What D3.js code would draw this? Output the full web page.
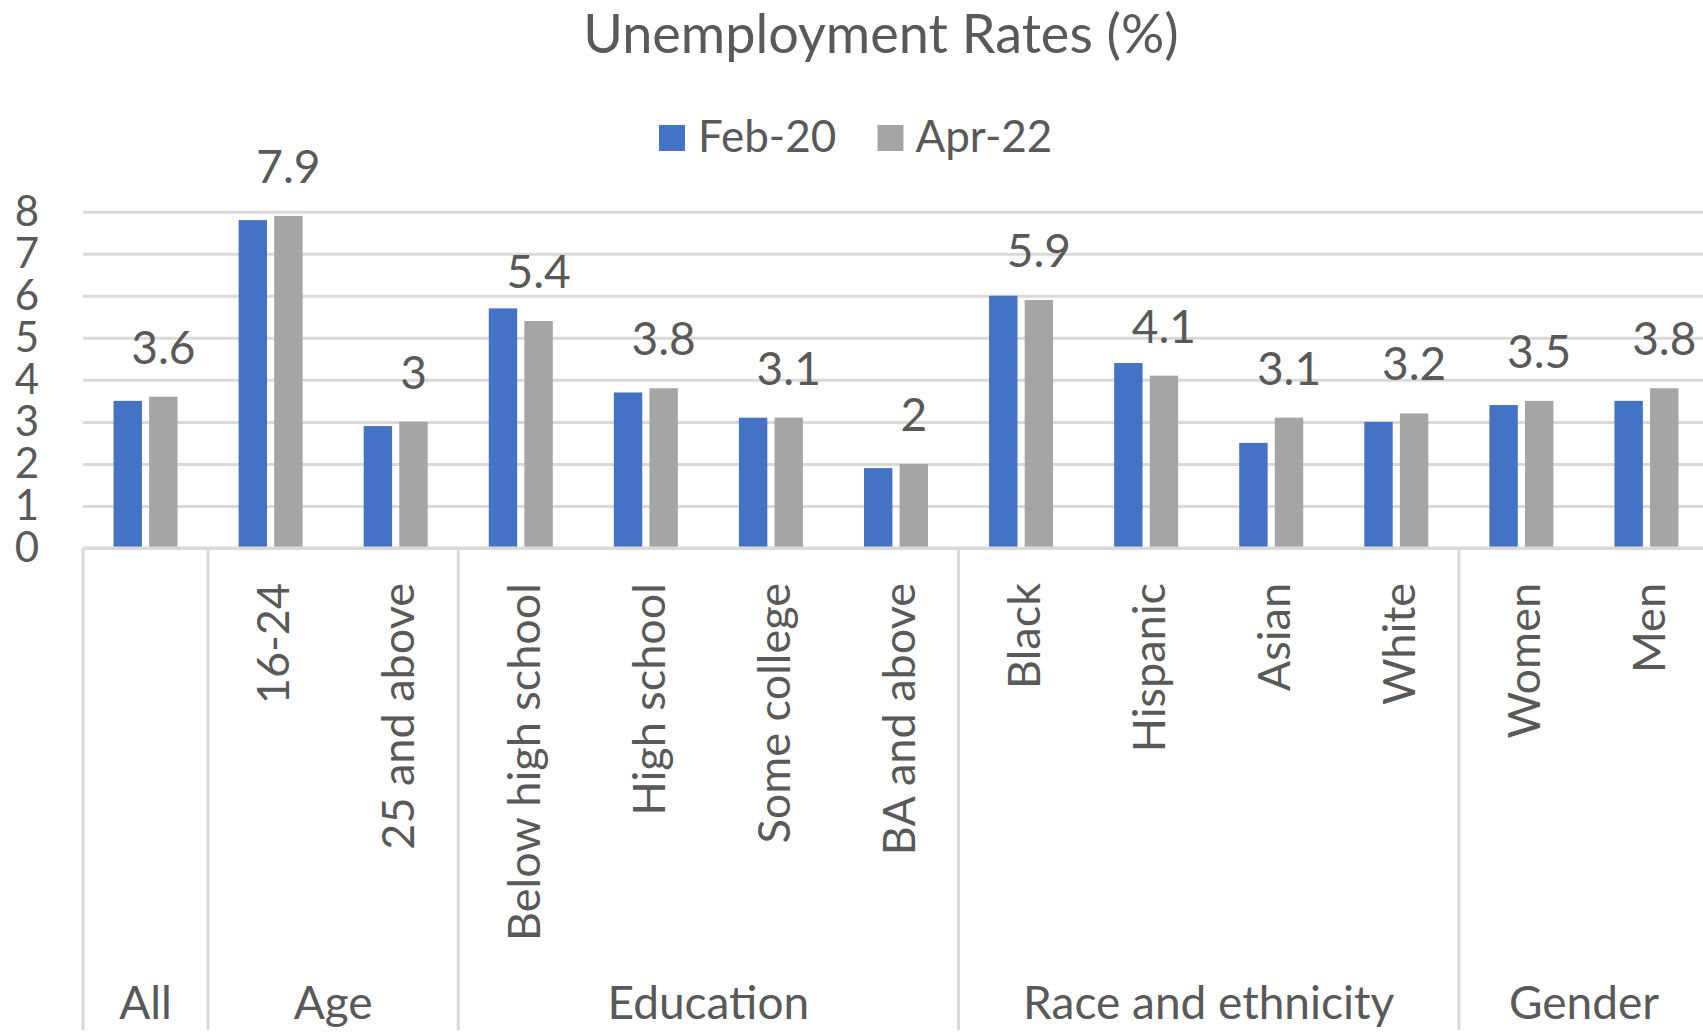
<!DOCTYPE html>
<html>
<head>
<meta charset="utf-8">
<script src="https://cdn.jsdelivr.net/npm/d3@7"></script>
<style>
  body { margin: 0; background: #fff; }
  svg { display: block; }
  text { font-family: Lato, "Open Sans", sans-serif; fill: #595959; }
</style>
</head>
<body>
<svg id="chart" width="1703" height="1035"></svg>
<script>
// Unemployment rates (%) by group, Feb 2020 vs Apr 2022
const categories = ["", "16-24", "25 and above", "Below high school", "High school",
  "Some college", "BA and above", "Black", "Hispanic", "Asian", "White", "Women", "Men"];
const groupOf = ["All", "Age", "Age", "Education", "Education", "Education", "Education",
  "Race and ethnicity", "Race and ethnicity", "Race and ethnicity", "Race and ethnicity",
  "Gender", "Gender"];
const groupNames = ["All", "Age", "Education", "Race and ethnicity", "Gender"];
const seriesNames = ["Feb-20", "Apr-22"];
const feb20 = [3.5, 7.8, 2.9, 5.7, 3.7, 3.1, 1.9, 6.0, 4.4, 2.5, 3.0, 3.4, 3.5];
const apr22 = [3.6, 7.9, 3.0, 5.4, 3.8, 3.1, 2.0, 5.9, 4.1, 3.1, 3.2, 3.5, 3.8];
const yTicks = [0, 1, 2, 3, 4, 5, 6, 7, 8];

const colors = { "Feb-20": "#4472C4", "Apr-22": "#A5A5A5" };
const gridColor = "#D9D9D9";
const fontFamily = "Lato, 'Open Sans', sans-serif";

const svg = d3.select("#chart");
const plotLeft = 83, plotRight = 1709, plotTop = 211.7, plotBottom = 548;

const x = d3.scaleBand().domain(d3.range(categories.length)).range([plotLeft, plotRight]);
const xs = d3.scaleBand().domain(seriesNames).range([0, x.bandwidth()])
  .paddingInner(0.202).paddingOuter(0.858);
const y = d3.scaleLinear().domain([0, 8]).range([plotBottom, plotTop]);

const values = { "Feb-20": feb20, "Apr-22": apr22 };

// Title
svg.append("text")
  .attr("x", 881).attr("y", 53)
  .attr("text-anchor", "middle")
  .style("font-size", "54px")
  .text("Unemployment Rates (%)");

// Legend
const legend = svg.append("g");
const legendPos = [{ sx: 659, tx: 698 }, { sx: 877.5, tx: 915.5 }];
seriesNames.forEach((s, i) => {
  legend.append("rect")
    .attr("x", legendPos[i].sx).attr("y", 125)
    .attr("width", 26).attr("height", 26)
    .attr("fill", colors[s]);
  legend.append("text")
    .attr("x", legendPos[i].tx).attr("y", 152)
    .style("font-size", "44px")
    .text(s);
});

// Gridlines
const grid = svg.append("g").attr("transform", `translate(${plotLeft},0)`)
  .call(d3.axisLeft(y).tickValues(yTicks).tickSize(-(plotRight - plotLeft)).tickFormat(""));
grid.select(".domain").remove();
grid.selectAll("line").attr("stroke", gridColor).attr("stroke-width", 3);

// Y tick labels
const yAxis = svg.append("g").attr("transform", `translate(${plotLeft},0)`)
  .call(d3.axisLeft(y).tickValues(yTicks).tickSize(0).tickPadding(44));
yAxis.select(".domain").remove();
yAxis.selectAll("text")
  .attr("fill", "#595959")
  .style("font-family", fontFamily)
  .style("font-size", "42px");

// Bars
seriesNames.forEach(s => {
  svg.append("g").selectAll("rect")
    .data(values[s])
    .join("rect")
    .attr("x", (d, i) => x(i) + xs(s))
    .attr("y", d => y(d))
    .attr("width", xs.bandwidth())
    .attr("height", d => y(0) - y(d))
    .attr("fill", colors[s]);
});

// Data labels (Apr-22)
svg.append("g").selectAll("text")
  .data(apr22)
  .join("text")
  .attr("x", (d, i) => x(i) + xs("Apr-22") + xs.bandwidth() / 2)
  .attr("y", d => y(d) - 33)
  .attr("text-anchor", "middle")
  .style("font-size", "46px")
  .text(d => String(d));

// Category axis
const xAxis = svg.append("g").attr("transform", `translate(0,${plotBottom})`)
  .call(d3.axisBottom(x).tickSize(0).tickFormat(i => categories[i]));
xAxis.select(".domain").remove();
xAxis.selectAll("text")
  .attr("transform", "rotate(-90)")
  .attr("x", -35).attr("y", 3).attr("dy", "0.35em")
  .attr("text-anchor", "end")
  .attr("fill", "#595959")
  .style("font-family", fontFamily)
  .style("font-size", "45px");

// Axis baseline
svg.append("line")
  .attr("x1", plotLeft).attr("x2", plotRight)
  .attr("y1", plotBottom).attr("y2", plotBottom)
  .attr("stroke", gridColor).attr("stroke-width", 3);

// Group separators and group labels
const groupSpans = groupNames.map(g => {
  const idx = groupOf.map((v, i) => v === g ? i : -1).filter(i => i >= 0);
  return { name: g, x0: x(idx[0]), x1: x(idx[idx.length - 1]) + x.bandwidth() };
});
const bounds = [groupSpans[0].x0].concat(groupSpans.map(d => d.x1));
svg.append("g").selectAll("line")
  .data(bounds)
  .join("line")
  .attr("x1", d => d).attr("x2", d => d)
  .attr("y1", plotBottom).attr("y2", 1030)
  .attr("stroke", gridColor).attr("stroke-width", 3);

svg.append("g").selectAll("text")
  .data(groupSpans)
  .join("text")
  .attr("x", d => (d.x0 + d.x1) / 2)
  .attr("y", 1019)
  .attr("text-anchor", "middle")
  .style("font-size", "46px")
  .text(d => d.name);
</script>
</body>
</html>
